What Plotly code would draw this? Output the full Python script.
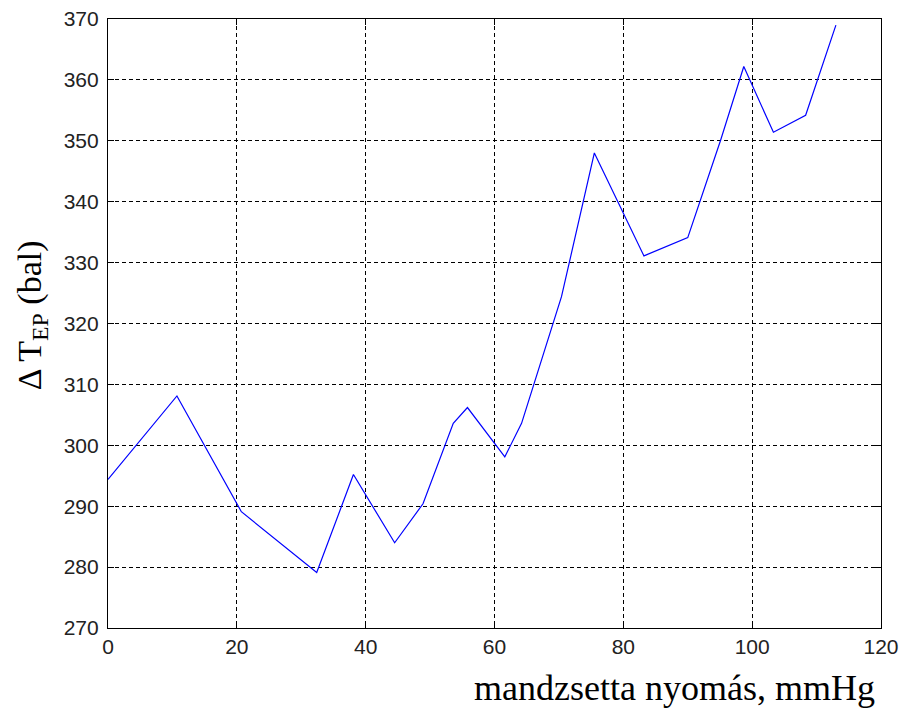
import plotly.graph_objects as go

pressure = [0, 10.7, 20.7, 32.4, 38.1, 44.5, 48.9, 53.6, 55.8, 61.6, 64.2, 70.4, 75.5, 83.2, 90.0, 95.1, 98.7, 103.3, 108.3, 113.0]
delta_t = [294.4, 308.1, 289.1, 279.1, 295.2, 284.0, 290.4, 303.6, 306.2, 298.1, 303.6, 324.4, 348.0, 331.1, 334.1, 350.1, 362.2, 351.4, 354.2, 369.0]

x_ticks = [0, 20, 40, 60, 80, 100, 120]
y_ticks = [270, 280, 290, 300, 310, 320, 330, 340, 350, 360, 370]

fig = go.Figure()
fig.add_trace(go.Scatter(x=pressure, y=delta_t, mode="lines",
                         line=dict(color="#0000ff", width=1.2), showlegend=False))

axis_common = dict(
    showline=True, linecolor="black", linewidth=1.2, mirror="allticks",
    ticks="inside", ticklen=6, tickcolor="black", tickwidth=1,
    showgrid=True, gridcolor="black", griddash="4px,3px", gridwidth=1,
    zeroline=False, automargin=False,
    tickfont=dict(family="Liberation Sans, Arial", size=21, color="#222222"),
)

fig.update_xaxes(range=[0, 120], tickvals=x_ticks, **axis_common)
fig.update_yaxes(range=[270, 370], tickvals=y_ticks, ticklabelstandoff=4, **axis_common)

fig.add_annotation(text="mandzsetta nyomás, mmHg", xref="paper", yref="paper",
                   x=0.995, y=-0.098, xanchor="right", yanchor="middle",
                   showarrow=False,
                   font=dict(family="Liberation Serif, Times New Roman", size=36, color="black"))
fig.add_annotation(text="Δ T<sub>EP</sub> (bal)", xref="paper", yref="paper",
                   x=-0.098, y=0.514, xanchor="center", yanchor="middle",
                   textangle=-90, showarrow=False,
                   font=dict(family="Liberation Serif, Times New Roman", size=34, color="black"))

fig.update_layout(
    width=899, height=709,
    margin=dict(l=108, r=18, t=19, b=81),
    paper_bgcolor="white", plot_bgcolor="white",
)

fig.write_html("out.html")
